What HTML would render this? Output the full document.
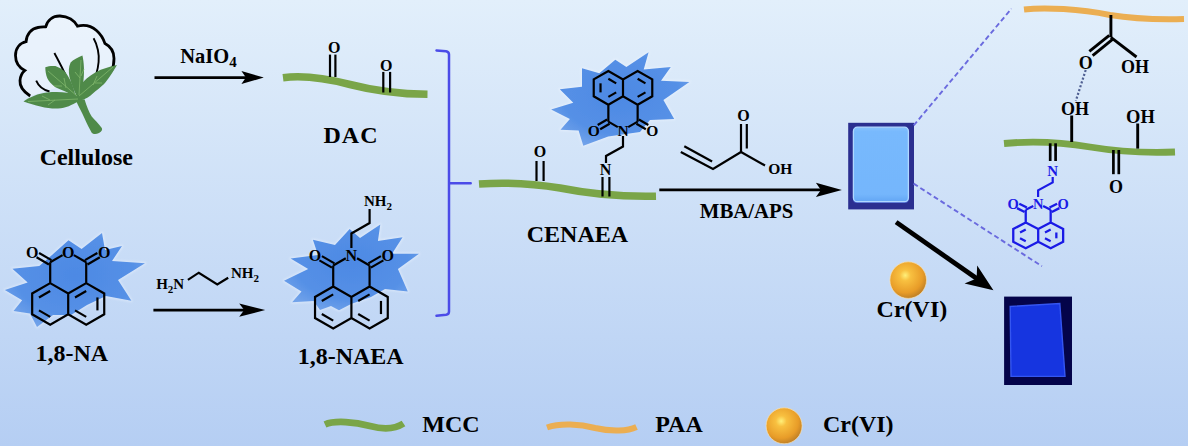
<!DOCTYPE html><html><head><meta charset="utf-8"><style>html,body{margin:0;padding:0;overflow:hidden;background:#cfe0f6}svg{display:block}text{font-family:"Liberation Serif", serif;font-weight:bold}</style></head><body>
<svg width="1188" height="446" viewBox="0 0 1188 446">
<defs>
<linearGradient id="bg" x1="0" y1="0" x2="0" y2="1"><stop offset="0" stop-color="#e2effb"/><stop offset="1" stop-color="#b5cef3"/></linearGradient>
<radialGradient id="starg" cx="0.5" cy="0.45" r="0.6"><stop offset="0" stop-color="#4d89e4"/><stop offset="0.7" stop-color="#5590e6"/><stop offset="1" stop-color="#72a3ea"/></radialGradient>
<filter id="soft" x="-10%" y="-10%" width="120%" height="120%"><feGaussianBlur stdDeviation="0.6"/></filter><filter id="glow" x="-10%" y="-10%" width="120%" height="120%"><feGaussianBlur stdDeviation="1.2"/></filter><filter id="soft2" x="-10%" y="-10%" width="120%" height="120%"><feGaussianBlur stdDeviation="0.9"/></filter>
<radialGradient id="ball" cx="0.42" cy="0.37" r="0.68"><stop offset="0" stop-color="#fff07a"/><stop offset="0.22" stop-color="#f8c040"/><stop offset="0.7" stop-color="#e89c28"/><stop offset="1" stop-color="#b47826"/></radialGradient>
<linearGradient id="gel1" x1="0" y1="0" x2="0" y2="1"><stop offset="0" stop-color="#86c2fd"/><stop offset="0.06" stop-color="#78b9fd"/><stop offset="0.9" stop-color="#74b6fc"/><stop offset="1" stop-color="#64a6f4"/></linearGradient>
</defs>
<rect width="1188" height="446" fill="url(#bg)"/>

<path d="M102.00,233.00 L105.00,250.00 L122.00,246.00 L112.00,261.00 L145.00,263.20 L118.00,280.00 L131.40,300.80 L105.90,296.10 L87.00,305.00 L71.00,315.00 L53.00,315.00 L37.00,327.10 L30.00,313.50 L13.50,311.00 L22.20,300.20 L4.80,290.00 L27.70,282.50 L12.40,268.70 L39.30,266.00 L52.00,255.00 L68.50,240.30 L81.60,249.00 Z" fill="none" stroke="#f4f8ff" stroke-opacity="0.45" stroke-width="2.2" stroke-linejoin="round" filter="url(#glow)"/><path d="M102.00,233.00 L105.00,250.00 L122.00,246.00 L112.00,261.00 L145.00,263.20 L118.00,280.00 L131.40,300.80 L105.90,296.10 L87.00,305.00 L71.00,315.00 L53.00,315.00 L37.00,327.10 L30.00,313.50 L13.50,311.00 L22.20,300.20 L4.80,290.00 L27.70,282.50 L12.40,268.70 L39.30,266.00 L52.00,255.00 L68.50,240.30 L81.60,249.00 Z" fill="url(#starg)" filter="url(#soft)"/>
<path d="M380.30,224.40 L377.90,240.90 L402.60,237.30 L392.00,253.80 L419.00,253.80 L397.90,269.10 L407.80,291.50 L385.00,289.00 L371.00,297.00 L351.00,304.00 L339.00,310.30 L331.00,306.00 L320.00,310.00 L313.60,301.00 L292.10,302.30 L301.50,291.50 L284.00,280.80 L308.20,269.00 L290.60,258.50 L318.00,255.00 L312.90,239.70 L335.00,245.00 L349.70,229.10 L360.00,238.00 Z" fill="none" stroke="#f4f8ff" stroke-opacity="0.45" stroke-width="2.2" stroke-linejoin="round" filter="url(#glow)"/><path d="M380.30,224.40 L377.90,240.90 L402.60,237.30 L392.00,253.80 L419.00,253.80 L397.90,269.10 L407.80,291.50 L385.00,289.00 L371.00,297.00 L351.00,304.00 L339.00,310.30 L331.00,306.00 L320.00,310.00 L313.60,301.00 L292.10,302.30 L301.50,291.50 L284.00,280.80 L308.20,269.00 L290.60,258.50 L318.00,255.00 L312.90,239.70 L335.00,245.00 L349.70,229.10 L360.00,238.00 Z" fill="url(#starg)" filter="url(#soft)"/>
<path d="M648.60,52.30 L643.70,69.60 L670.80,67.10 L661.00,80.70 L689.40,81.90 L663.40,100.00 L674.20,118.90 L650.00,120.00 L640.00,132.00 L608.20,136.40 L583.30,145.80 L578.60,130.40 L560.50,129.70 L569.90,118.90 L551.10,109.50 L573.30,102.80 L559.80,89.30 L582.00,86.80 L582.00,68.30 L599.30,73.30 L615.30,59.70 L626.40,67.10 Z" fill="none" stroke="#f4f8ff" stroke-opacity="0.45" stroke-width="2.2" stroke-linejoin="round" filter="url(#glow)"/><path d="M648.60,52.30 L643.70,69.60 L670.80,67.10 L661.00,80.70 L689.40,81.90 L663.40,100.00 L674.20,118.90 L650.00,120.00 L640.00,132.00 L608.20,136.40 L583.30,145.80 L578.60,130.40 L560.50,129.70 L569.90,118.90 L551.10,109.50 L573.30,102.80 L559.80,89.30 L582.00,86.80 L582.00,68.30 L599.30,73.30 L615.30,59.70 L626.40,67.10 Z" fill="url(#starg)" filter="url(#soft)"/>
<g id="cotton">
<path d="M30.2,96 C24,92 19.5,86.5 20,80.5 C20.3,75.5 22.5,72.5 24.8,70.5 C19,67.5 15.5,62 15.5,55.5 C15.5,48 20,43 26.1,41.6 C26.5,34 31.5,28.5 38,27.5 C41,27.1 43.5,27 45.7,26.8 C47.5,20 53,15.8 60,16 C68,16.2 74.5,20.5 77.5,26.1 C85,24.3 92,26.5 96.5,30.5 C100.5,34 103.5,39 105,43.6 C110.5,46.5 114,52 114,58.5 C114,63.5 113.2,67.5 111.5,71" fill="rgba(255,255,255,0.35)" stroke="#000" stroke-width="2.8" stroke-linejoin="miter"/>
<path d="M36.2,80.6 C38,85 42,89.5 49.5,91.5" fill="none" stroke="#000" stroke-width="1.9"/>
<path d="M54.4,53 C57.5,59 61,65 65.5,75" fill="none" stroke="#000" stroke-width="1.9"/>
<path d="M93.6,38.3 C97.5,45 99.5,55 98.6,62 C98.2,66 97.5,70 96.5,73" fill="none" stroke="#000" stroke-width="1.9"/>
<path d="M45.3,67.2 C48.5,66 52,65.8 55.4,66.1 C59,67.5 63,69.5 65.5,72.2 C69,77 71.5,82 73.5,88.3 L76,97 C72,95.5 70,94 67.5,92.4 C63,90.5 59,89 55.4,87.3 C51,84 48.5,81 47.3,78.3 C46,75 45.3,71 45.3,67.2 Z" fill="#4f8a49"/>
<path d="M82.4,55.5 C78,57.5 73,59.5 70.6,62.5 C68.5,67 68.5,72 69.5,77 C71,84 74,90 77,97 L81,95 C82,90 83,86 83.5,80 C84.5,72 84,62 82.4,55.5 Z" fill="#4f8a49"/>
<path d="M116.9,65.1 C110,66.5 102,69 95.7,72.2 C89,76 84,80 81,85 C78.5,89 77,93 76,97 L77.6,101 C84,100 88,97.5 91.7,94.4 C97,90 101,87 103.8,84.3 C108,80 113,72 116.9,65.1 Z" fill="#4f8a49"/>
<path d="M23.5,101.5 C30,97 38,93.5 47,92.5 C58,91.5 68,92 77,95 L78,101.5 C72,105 66,108 58,108.5 C48,109 36,106 23.5,101.5 Z" fill="#4f8a49"/>
<path d="M75.5,99.5 C78,106 82,112 84.6,118.6 C87,124 89.5,129 91.7,132.7 C93,134.2 96,134.5 99,133 C102,131.5 102.5,129.5 101.8,128 C98,123 94.5,120 91.7,116.6 C89,112 86.5,106 84.6,99.5 Z" fill="#4f8a49"/>
<path d="M78,99 L28,101.5 M77,96 L48,71 M79,95 L81,60 M79,96 L113,67 M50,100 L42,96 M55,100 L48,105 M62,86 L54,86 M66,88 L64,78 M80,78 L75,72 M81,76 L84,69 M95,83 L102,83 M93,85 L97,76" fill="none" stroke="#80b66c" stroke-width="0.9" opacity="0.9"/>
</g>
<line x1="154.50" y1="77.60" x2="246.90" y2="77.60" stroke="#000" stroke-width="2.9" /><path d="M263.80,77.60 L241.40,84.10 L245.90,77.60 L241.40,71.10 Z" fill="#000"/>
<line x1="153.40" y1="310.10" x2="245.20" y2="310.10" stroke="#000" stroke-width="2.9" /><path d="M265.20,310.10 L239.20,316.70 L244.20,310.10 L239.20,303.50 Z" fill="#000"/>
<line x1="659.30" y1="189.90" x2="821.90" y2="189.90" stroke="#000" stroke-width="2.9" /><path d="M841.90,189.90 L815.90,197.10 L820.90,189.90 L815.90,182.70 Z" fill="#000"/>
<line x1="896.10" y1="222.10" x2="977.42" y2="279.02" stroke="#000" stroke-width="4.8" /><path d="M993.40,290.20 L964.56,283.44 L976.60,278.45 L977.18,265.42 Z" fill="#000"/>
<text x="86.30" y="164.70" font-size="24" text-anchor="middle" fill="#000" >Cellulose</text>
<text x="180.30" y="63.00" font-size="20.5" text-anchor="start" fill="#000" >NaIO<tspan font-size="15" dy="4.3">4</tspan></text>
<text x="351.00" y="142.90" font-size="24" text-anchor="middle" fill="#000" letter-spacing="1">DAC</text>
<text x="71.75" y="360.70" font-size="24" text-anchor="middle" fill="#000" >1,8-NA</text>
<text x="350.70" y="364.40" font-size="24" text-anchor="middle" fill="#000" >1,8-NAEA</text>
<text x="577.40" y="241.60" font-size="24" text-anchor="middle" fill="#000" >CENAEA</text>
<text x="746.60" y="217.90" font-size="20.8" text-anchor="middle" fill="#000" >MBA/APS</text>
<text x="911.90" y="317.40" font-size="24" text-anchor="middle" fill="#000" >Cr(VI)</text>
<text x="451.00" y="431.80" font-size="24" text-anchor="middle" fill="#000" >MCC</text>
<text x="679.00" y="431.80" font-size="24" text-anchor="middle" fill="#000" >PAA</text>
<text x="858.30" y="431.80" font-size="24" text-anchor="middle" fill="#000" >Cr(VI)</text>
<path d="M283,77.7 C300,75.5 325,78 350,84.5 C375,91 400,94 427.5,94.3" fill="none" stroke="#7aa548" stroke-width="7.5"/>
<path d="M479,184 C500,182.5 530,183 560,188 C590,194 620,197 656,196.2" fill="none" stroke="#7aa548" stroke-width="7.5"/>
<path d="M1004,143.5 C1030,141 1060,142 1090,147 C1120,152 1150,153 1175,152" fill="none" stroke="#7aa548" stroke-width="6.8"/>
<path d="M325,424.5 C335,420 355,422 370,426 C385,430 395,429 403.5,423.5" fill="none" stroke="#7aa548" stroke-width="6.8"/>
<path d="M1024,9.5 C1045,7 1080,9 1110,15 C1140,20 1165,19.5 1184,19" fill="none" stroke="#ebae52" stroke-width="6"/>
<path d="M547,427.5 C560,423 580,424 595,428 C612,432 628,431 636.5,427" fill="none" stroke="#ebae52" stroke-width="6"/>
<line x1="330.00" y1="54.60" x2="330.00" y2="77.00" stroke="#000" stroke-width="2.2" /><line x1="335.40" y1="54.60" x2="335.40" y2="77.00" stroke="#000" stroke-width="2.2" />
<text x="334.20" y="53.30" font-size="16" text-anchor="middle" fill="#000" >O</text>
<line x1="383.30" y1="71.90" x2="383.30" y2="92.50" stroke="#000" stroke-width="2.2" /><line x1="390.10" y1="71.90" x2="390.10" y2="92.50" stroke="#000" stroke-width="2.2" />
<text x="386.20" y="70.80" font-size="16" text-anchor="middle" fill="#000" >O</text>
<line x1="536.50" y1="161.00" x2="536.50" y2="181.00" stroke="#000" stroke-width="2.2" /><line x1="543.60" y1="161.00" x2="543.60" y2="181.00" stroke="#000" stroke-width="2.2" />
<text x="539.90" y="156.60" font-size="16" text-anchor="middle" fill="#000" >O</text>
<line x1="602.50" y1="177.00" x2="602.50" y2="196.50" stroke="#000" stroke-width="2.2" /><line x1="609.40" y1="177.00" x2="609.40" y2="196.50" stroke="#000" stroke-width="2.2" />
<text x="605.50" y="175.30" font-size="16" text-anchor="middle" fill="#000" >N</text>
<path d="M436.5,50.5 L446,51.2 Q449,51.6 449,54.5 L449,311.5 Q449,314.4 446,314.8 L436.5,315.8 M449,183.2 L470.7,183.2" fill="none" stroke="#4b4be8" stroke-width="2.5" stroke-linecap="round"/>
<path d="M50.19,283.10 L32.17,293.50 L32.17,314.30 L50.19,324.70 L68.20,314.30 L86.21,324.70 L104.23,314.30 L104.23,293.50 L86.21,283.10 M68.20,293.50 L68.20,314.30 M50.19,283.10 L68.20,293.50 L86.21,283.10 M50.19,283.10 L50.19,262.30 M86.21,283.10 L86.21,262.30" fill="none" stroke="#000" stroke-width="2.2" stroke-linejoin="miter" stroke-linecap="butt"/>
<line x1="50.19" y1="262.30" x2="62.57" y2="255.15" stroke="#000" stroke-width="2.2" />
<line x1="86.21" y1="262.30" x2="73.83" y2="255.15" stroke="#000" stroke-width="2.2" />
<line x1="51.44" y1="260.13" x2="39.05" y2="252.98" stroke="#000" stroke-width="2.2" /><line x1="48.94" y1="264.47" x2="36.55" y2="257.32" stroke="#000" stroke-width="2.2" />
<line x1="87.46" y1="264.47" x2="99.85" y2="257.32" stroke="#000" stroke-width="2.2" /><line x1="84.96" y1="260.13" x2="97.35" y2="252.98" stroke="#000" stroke-width="2.2" />
<line x1="50.19" y1="290.95" x2="38.97" y2="297.43" stroke="#000" stroke-width="2.2" />
<line x1="38.97" y1="310.37" x2="50.19" y2="316.85" stroke="#000" stroke-width="2.2" />
<line x1="75.00" y1="297.43" x2="86.21" y2="290.95" stroke="#000" stroke-width="2.2" />
<line x1="97.43" y1="297.43" x2="97.43" y2="310.37" stroke="#000" stroke-width="2.2" />
<line x1="75.00" y1="310.37" x2="86.21" y2="316.85" stroke="#000" stroke-width="2.2" />
<text x="68.20" y="258.14" font-size="16" text-anchor="middle" fill="#000" >O</text>
<text x="32.17" y="258.14" font-size="16" text-anchor="middle" fill="#000" >O</text>
<text x="104.23" y="258.14" font-size="16" text-anchor="middle" fill="#000" >O</text>
<path d="M187.9,279.9 L198.8,272.7 L217.3,284.5 L228.2,277.7" fill="none" stroke="#000" stroke-width="2.2"/>
<text x="156.20" y="289.30" font-size="15" text-anchor="start" fill="#000" >H<tspan font-size="11" dy="3.5">2</tspan><tspan dy="-3.5">N</tspan></text>
<text x="231.00" y="278.40" font-size="15" text-anchor="start" fill="#000" >NH<tspan font-size="11" dy="3.5">2</tspan></text>
<path d="M333.21,286.50 L315.03,297.00 L315.03,318.00 L333.21,328.50 L351.40,318.00 L369.59,328.50 L387.77,318.00 L387.77,297.00 L369.59,286.50 M351.40,297.00 L351.40,318.00 M333.21,286.50 L351.40,297.00 L369.59,286.50 M333.21,286.50 L333.21,265.50 M369.59,286.50 L369.59,265.50" fill="none" stroke="#000" stroke-width="2.2" stroke-linejoin="miter" stroke-linecap="butt"/>
<line x1="333.21" y1="265.50" x2="345.77" y2="258.25" stroke="#000" stroke-width="2.2" />
<line x1="369.59" y1="265.50" x2="357.03" y2="258.25" stroke="#000" stroke-width="2.2" />
<line x1="334.46" y1="263.33" x2="321.91" y2="256.08" stroke="#000" stroke-width="2.2" /><line x1="331.96" y1="267.67" x2="319.41" y2="260.42" stroke="#000" stroke-width="2.2" />
<line x1="370.84" y1="267.67" x2="383.39" y2="260.42" stroke="#000" stroke-width="2.2" /><line x1="368.34" y1="263.33" x2="380.89" y2="256.08" stroke="#000" stroke-width="2.2" />
<line x1="333.21" y1="294.35" x2="321.83" y2="300.93" stroke="#000" stroke-width="2.2" />
<line x1="321.83" y1="314.07" x2="333.21" y2="320.65" stroke="#000" stroke-width="2.2" />
<line x1="358.20" y1="300.93" x2="369.59" y2="294.35" stroke="#000" stroke-width="2.2" />
<line x1="380.97" y1="300.93" x2="380.97" y2="314.07" stroke="#000" stroke-width="2.2" />
<line x1="358.20" y1="314.07" x2="369.59" y2="320.65" stroke="#000" stroke-width="2.2" />
<text x="351.40" y="261.24" font-size="16" text-anchor="middle" fill="#000" >N</text>
<text x="315.03" y="261.24" font-size="16" text-anchor="middle" fill="#000" >O</text>
<text x="387.77" y="261.24" font-size="16" text-anchor="middle" fill="#000" >O</text>
<path d="M351.4,248 L351.4,233.5 L369.6,223 L369.6,209" fill="none" stroke="#000" stroke-width="2.2"/>
<text x="363.90" y="206.00" font-size="15" text-anchor="start" fill="#000" >NH<tspan font-size="11" dy="4">2</tspan></text>
<path d="M608.36,104.75 L593.73,96.30 L593.73,79.40 L608.36,70.95 L623.00,79.40 L637.64,70.95 L652.27,79.40 L652.27,96.30 L637.64,104.75 M623.00,96.30 L623.00,79.40 M608.36,104.75 L623.00,96.30 L637.64,104.75 M608.36,104.75 L608.36,121.65 M637.64,104.75 L637.64,121.65" fill="none" stroke="#000" stroke-width="2.2" stroke-linejoin="miter" stroke-linecap="butt"/>
<line x1="608.36" y1="121.65" x2="617.80" y2="127.10" stroke="#000" stroke-width="2.2" />
<line x1="637.64" y1="121.65" x2="628.20" y2="127.10" stroke="#000" stroke-width="2.2" />
<line x1="607.11" y1="119.48" x2="597.67" y2="124.93" stroke="#000" stroke-width="2.2" /><line x1="609.61" y1="123.82" x2="600.17" y2="129.27" stroke="#000" stroke-width="2.2" />
<line x1="636.39" y1="123.82" x2="645.83" y2="129.27" stroke="#000" stroke-width="2.2" /><line x1="638.89" y1="119.48" x2="648.33" y2="124.93" stroke="#000" stroke-width="2.2" />
<line x1="608.36" y1="78.80" x2="616.20" y2="83.33" stroke="#000" stroke-width="2.2" />
<line x1="600.53" y1="92.37" x2="600.53" y2="83.33" stroke="#000" stroke-width="2.2" />
<line x1="608.36" y1="96.90" x2="616.20" y2="92.37" stroke="#000" stroke-width="2.2" />
<line x1="637.64" y1="78.80" x2="645.47" y2="83.33" stroke="#000" stroke-width="2.2" />
<line x1="645.47" y1="92.37" x2="637.64" y2="96.90" stroke="#000" stroke-width="2.2" />
<text x="623.00" y="136.14" font-size="15.5" text-anchor="middle" fill="#000" >N</text>
<text x="593.73" y="136.14" font-size="15.5" text-anchor="middle" fill="#000" >O</text>
<text x="652.27" y="136.14" font-size="15.5" text-anchor="middle" fill="#000" >O</text>
<path d="M623,136 L623,146.5 L606,156 L606,163" fill="none" stroke="#000" stroke-width="2.2"/>
<path d="M680.8,152 L713,169 L741,152" fill="none" stroke="#000" stroke-width="2.2"/>
<line x1="684.30" y1="146.30" x2="712.10" y2="161.50" stroke="#000" stroke-width="2.2" />
<line x1="741.00" y1="152.00" x2="741.00" y2="124.00" stroke="#000" stroke-width="2.2" /><line x1="746.80" y1="148.50" x2="746.80" y2="124.00" stroke="#000" stroke-width="2.2" />
<line x1="741.00" y1="152.00" x2="765.00" y2="165.50" stroke="#000" stroke-width="2.2" />
<text x="743.50" y="121.00" font-size="16" text-anchor="middle" fill="#000" >O</text>
<text x="768.30" y="174.40" font-size="15.5" text-anchor="start" fill="#000" >OH</text>
<rect x="848.2" y="122.8" width="65.8" height="86.6" fill="#2b2f90"/>
<rect x="853" y="127" width="55.8" height="76" rx="4" fill="#4a64cc" filter="url(#soft)"/>
<rect x="853.4" y="127.2" width="55" height="74.5" rx="4" fill="url(#gel1)" stroke="#b0d8ff" stroke-width="1.3" filter="url(#soft)"/>
<path d="M913.7,125.4 L1011.4,8.7 M913.6,183.6 L1041.9,266.2" stroke="#6a6ade" stroke-width="1.9" stroke-dasharray="5 3" fill="none"/>
<rect x="1004.1" y="296.6" width="67.9" height="88.4" fill="#04044a"/>
<path d="M1010.2,306.5 L1059.8,303.5 L1065,376.4 L1011,376.4 Z" fill="#1434e0" stroke="#3656f0" stroke-width="1.4" filter="url(#soft)"/>
<circle cx="908.2" cy="280.1" r="18.3" fill="url(#ball)" stroke="#f6e2b8" stroke-opacity="0.7" stroke-width="1"/>
<circle cx="784.1" cy="425.8" r="18" fill="url(#ball)" stroke="#f6e2b8" stroke-opacity="0.7" stroke-width="1"/>
<line x1="1110.90" y1="15.00" x2="1110.90" y2="37.30" stroke="#000" stroke-width="2.9" />
<line x1="1109.26" y1="35.28" x2="1089.36" y2="51.48" stroke="#000" stroke-width="2.9" /><line x1="1112.54" y1="39.32" x2="1092.64" y2="55.52" stroke="#000" stroke-width="2.9" />
<line x1="1110.90" y1="37.30" x2="1136.50" y2="57.00" stroke="#000" stroke-width="2.9" />
<text x="1085.70" y="68.80" font-size="18" text-anchor="middle" fill="#000" >O</text>
<text x="1121.00" y="72.70" font-size="18" text-anchor="start" fill="#000" >OH</text>
<path d="M1085.7,70 L1075.8,101" stroke="#4f5f92" stroke-width="2.2" stroke-dasharray="2.1 1.9"/>
<text x="1061.00" y="115.00" font-size="18" text-anchor="start" fill="#000" >OH</text>
<line x1="1071.70" y1="115.50" x2="1071.70" y2="142.00" stroke="#000" stroke-width="2.9" />
<text x="1126.10" y="123.10" font-size="18.5" text-anchor="start" fill="#000" >OH</text>
<line x1="1137.70" y1="123.50" x2="1137.70" y2="148.60" stroke="#000" stroke-width="2.9" />
<line x1="1050.20" y1="143.30" x2="1050.20" y2="161.00" stroke="#000" stroke-width="2.7" /><line x1="1055.60" y1="143.30" x2="1055.60" y2="161.00" stroke="#000" stroke-width="2.7" />
<line x1="1113.40" y1="150.00" x2="1113.40" y2="174.20" stroke="#000" stroke-width="2.7" /><line x1="1118.80" y1="150.00" x2="1118.80" y2="174.20" stroke="#000" stroke-width="2.7" />
<text x="1116.10" y="193.30" font-size="18" text-anchor="middle" fill="#000" >O</text>
<text x="1052.70" y="175.50" font-size="15" text-anchor="middle" fill="#1a1ae6" >N</text>
<path d="M1052.7,177 L1052.7,182.4 L1038.1,190.3 L1038.1,197" fill="none" stroke="#1a1ae6" stroke-width="2.2"/>
<path d="M1025.73,222.60 L1013.26,229.00 L1013.26,241.80 L1025.73,248.20 L1038.20,241.80 L1050.67,248.20 L1063.14,241.80 L1063.14,229.00 L1050.67,222.60 M1038.20,229.00 L1038.20,241.80 M1025.73,222.60 L1038.20,229.00 L1050.67,222.60 M1025.73,222.60 L1025.73,209.80 M1050.67,222.60 L1050.67,209.80" fill="none" stroke="#1a1ae6" stroke-width="2.3" stroke-linejoin="miter" stroke-linecap="butt"/>
<line x1="1025.73" y1="209.80" x2="1033.31" y2="205.91" stroke="#1a1ae6" stroke-width="2.3" />
<line x1="1050.67" y1="209.80" x2="1043.09" y2="205.91" stroke="#1a1ae6" stroke-width="2.3" />
<line x1="1026.87" y1="207.58" x2="1019.29" y2="203.69" stroke="#1a1ae6" stroke-width="2.3" /><line x1="1024.59" y1="212.02" x2="1017.01" y2="208.14" stroke="#1a1ae6" stroke-width="2.3" />
<line x1="1051.81" y1="212.02" x2="1059.39" y2="208.14" stroke="#1a1ae6" stroke-width="2.3" /><line x1="1049.53" y1="207.58" x2="1057.11" y2="203.69" stroke="#1a1ae6" stroke-width="2.3" />
<line x1="1025.73" y1="229.58" x2="1020.06" y2="232.49" stroke="#1a1ae6" stroke-width="2.3" />
<line x1="1020.06" y1="238.31" x2="1025.73" y2="241.22" stroke="#1a1ae6" stroke-width="2.3" />
<line x1="1045.00" y1="232.49" x2="1050.67" y2="229.58" stroke="#1a1ae6" stroke-width="2.3" />
<line x1="1056.34" y1="232.49" x2="1056.34" y2="238.31" stroke="#1a1ae6" stroke-width="2.3" />
<line x1="1045.00" y1="238.31" x2="1050.67" y2="241.22" stroke="#1a1ae6" stroke-width="2.3" />
<text x="1038.20" y="209.06" font-size="14.5" text-anchor="middle" fill="#1a1ae6" >N</text>
<text x="1013.26" y="209.06" font-size="14.5" text-anchor="middle" fill="#1a1ae6" >O</text>
<text x="1063.14" y="209.06" font-size="14.5" text-anchor="middle" fill="#1a1ae6" >O</text>
</svg></body></html>
